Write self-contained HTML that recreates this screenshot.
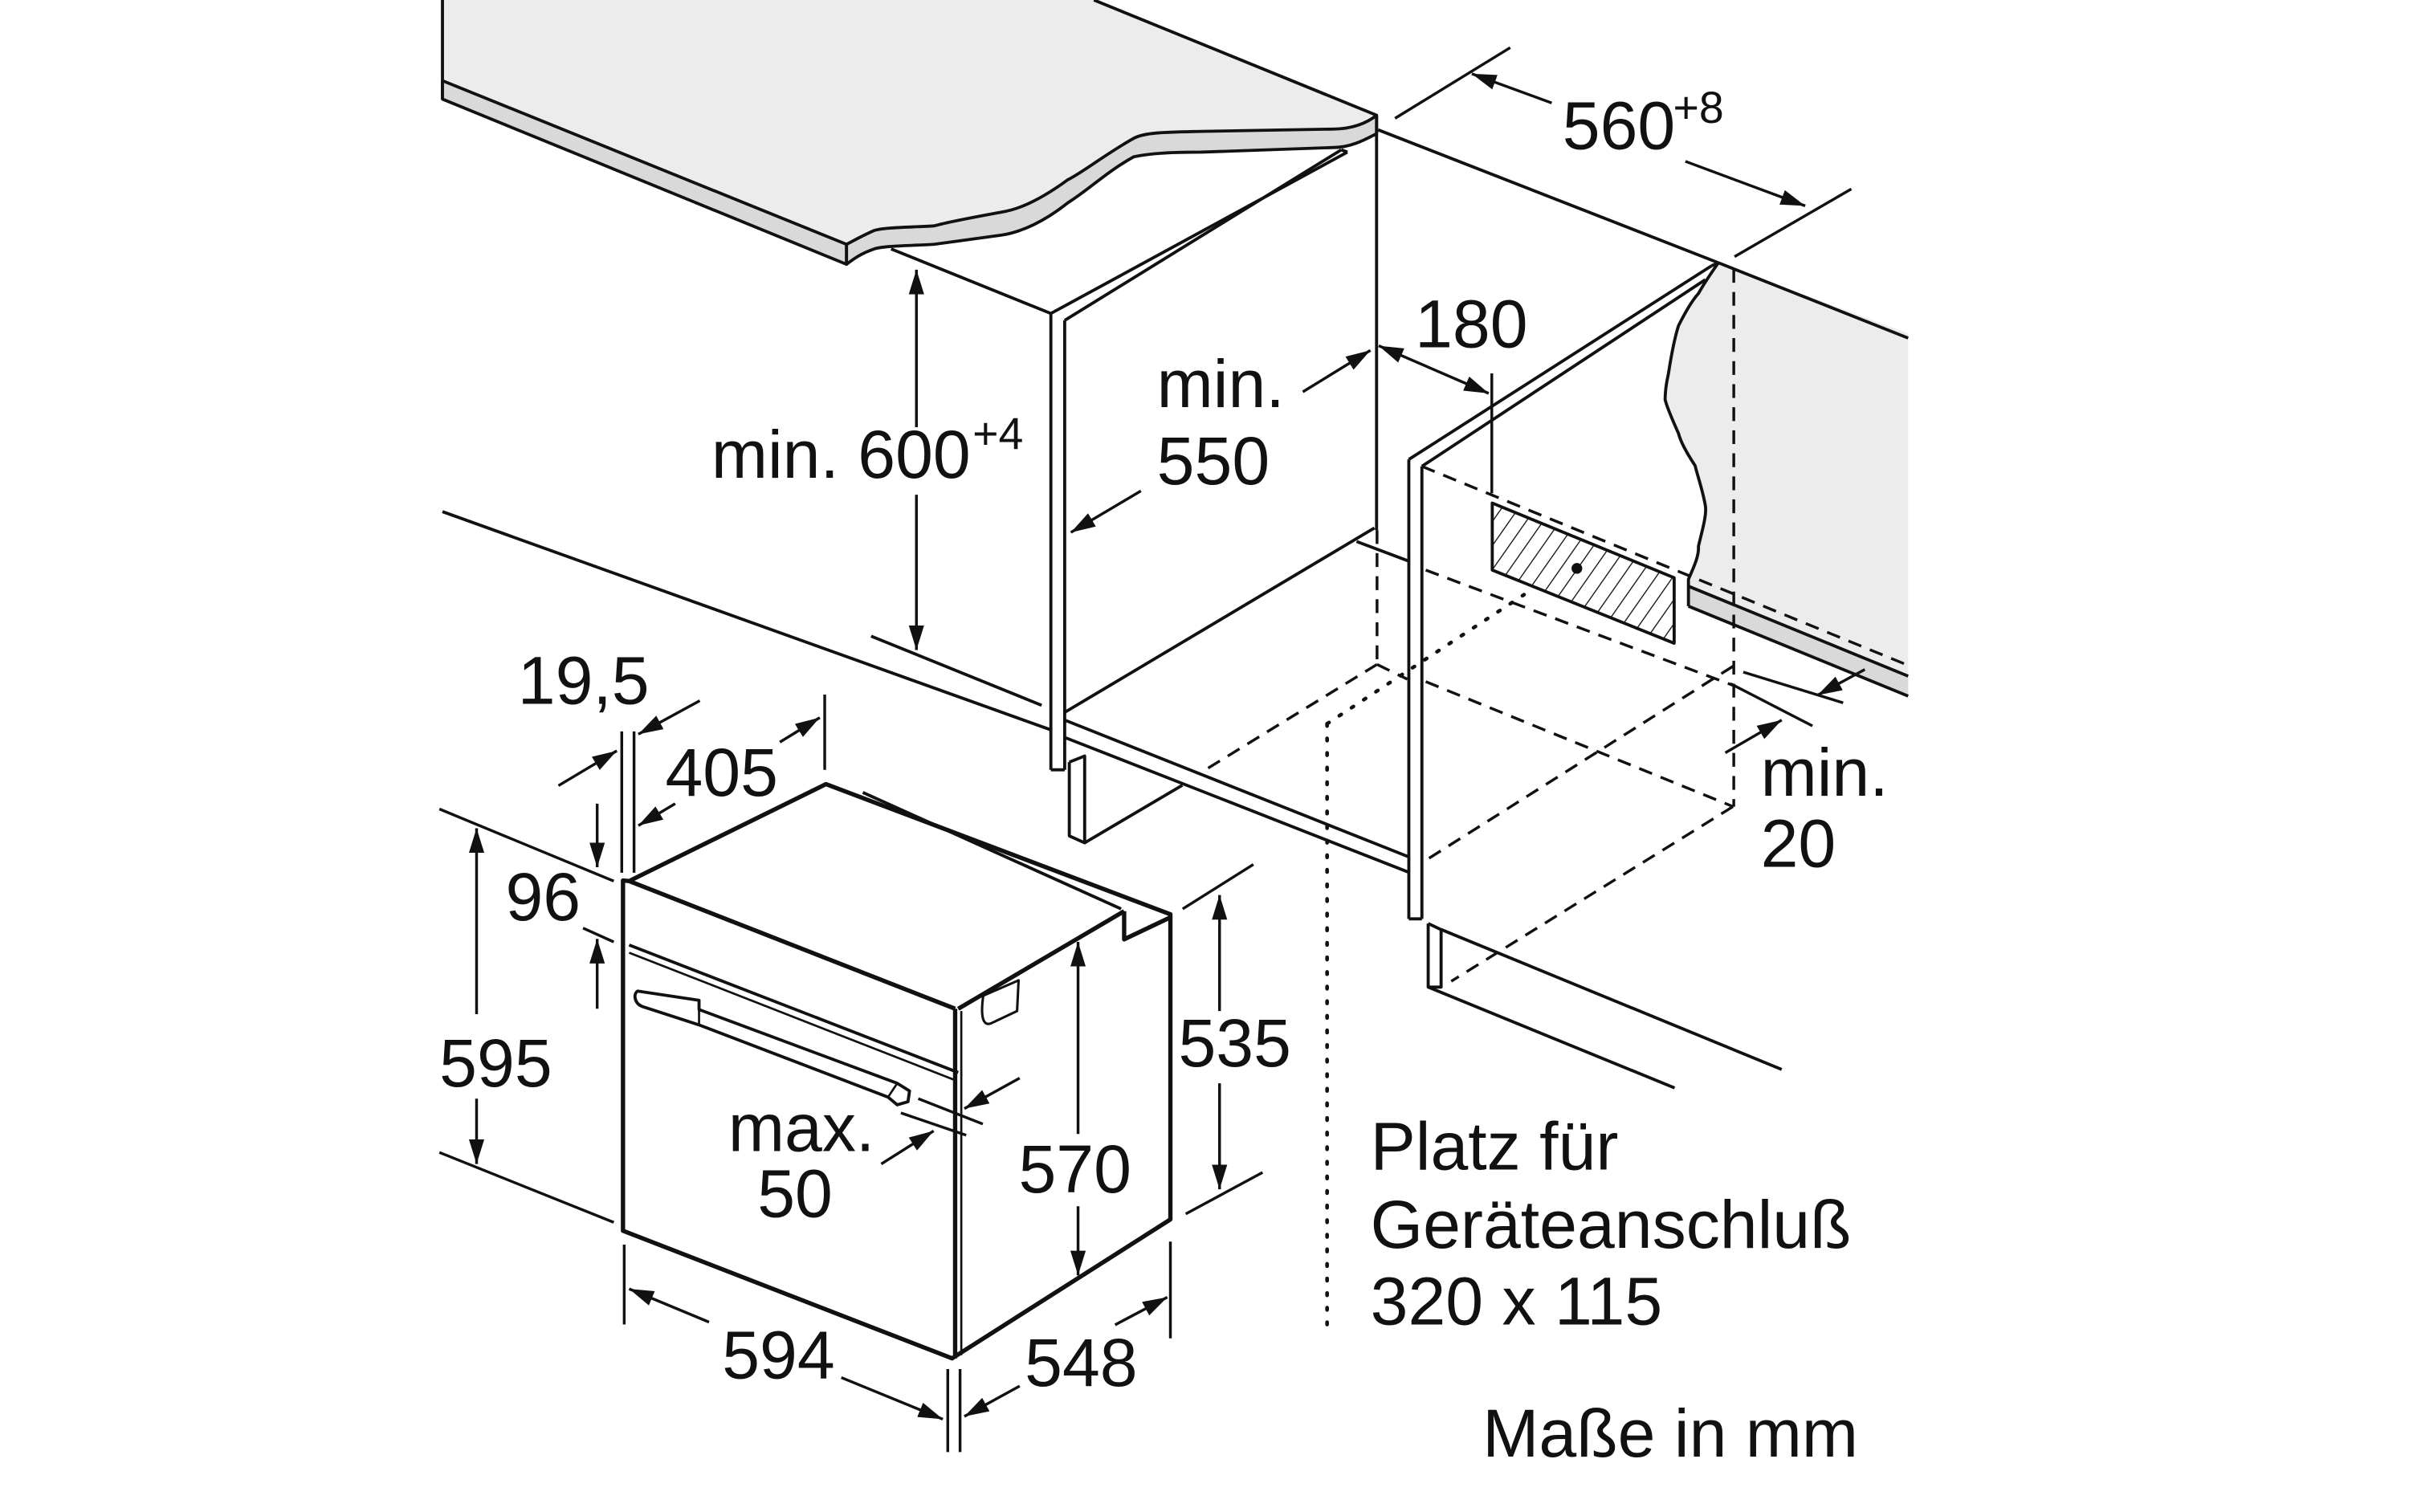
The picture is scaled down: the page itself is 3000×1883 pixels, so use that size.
<!DOCTYPE html>
<html><head><meta charset="utf-8"><style>
html,body{margin:0;padding:0;background:#fff;}
svg{display:block;}
text{font-family:"Liberation Sans",Arial,sans-serif;fill:#111;}
</style></head><body>
<svg width="3000" height="1883" viewBox="0 0 1568 984" preserveAspectRatio="none" xmlns="http://www.w3.org/2000/svg">
<defs>
<marker id="a" viewBox="0 0 16 10" refX="16" refY="5" markerWidth="16" markerHeight="10" markerUnits="userSpaceOnUse" orient="auto-start-reverse">
<path d="M0,0 L16,5 L0,10 Z" fill="#111"/></marker>
<pattern id="h" width="9" height="9" patternUnits="userSpaceOnUse" patternTransform="rotate(35)">
<line x1="0" y1="0" x2="0" y2="9" stroke="#111" stroke-width="1.4"/></pattern>
<clipPath id="hc"><polygon points="971.3,327.4 1089.7,376 1089.7,418.6 971.3,371"/></clipPath>
</defs>
<g stroke="#111" stroke-width="2" fill="none" stroke-linejoin="round">
<!-- countertop -->
<path d="M288,0 L712,0 L896,75 C890,80 880,84 868,84 L782,85.5 C760,86 745,86 738,90 C720,100 705,112 695,117 C680,128 665,136 652,138 C630,142 615,145 608,147 C590,148 575,148 569,150 C560,154 555,157 551,159 L288,52.5 Z" fill="#ececec" stroke="none"/>
<line x1="712" y1="0" x2="896" y2="75"/>
<line x1="288" y1="0" x2="288" y2="64.5"/>
<polygon points="288,52.5 551,159 551,172 288,64.5" fill="#d9d9d9"/>
<path d="M551,159 C555,157 560,154 569,150 C575,148 590,148 608,147 C615,145 630,142 652,138 C665,136 680,128 695,117 C705,112 720,100 738,90 C745,86 760,86 782,85.5 L868,84 C880,84 890,80 896,75 L896,87 C890,90 880,96 868,96 L782,99 C760,99 748,100 738,102 C720,112 708,124 695,132 C680,144 665,151 652,153 C630,156 615,158 608,159 C590,160 575,160 569,162 C560,165 555,169 551,172 Z" fill="#d9d9d9"/>
<!-- upper cabinet left side -->
<line x1="580" y1="162" x2="684" y2="204"/>
<line x1="684" y1="204" x2="877" y2="99"/>
<line x1="693" y1="208.5" x2="873" y2="97.5"/>
<line x1="877" y1="99" x2="873" y2="97.5"/>
<line x1="684" y1="204" x2="684" y2="501"/>
<line x1="693" y1="208.5" x2="693" y2="501"/>
<line x1="684" y1="501" x2="693" y2="501"/>
<polyline points="696,496 706,492 706,548.5 696,544 696,496"/>
<line x1="706" y1="548.5" x2="769.6" y2="511"/>
<line x1="896" y1="75" x2="896" y2="345"/>
<line x1="894.6" y1="343.6" x2="693" y2="463.6"/>
<line x1="883" y1="352.4" x2="916.3" y2="364.9"/>
<line x1="693" y1="468.6" x2="916.3" y2="557.4"/>
<line x1="693" y1="479.9" x2="916.3" y2="567.4"/>
<line x1="288" y1="333" x2="684" y2="475"/>
<line x1="567" y1="414" x2="678" y2="459"/>
<!-- right cabinet -->
<line x1="897" y1="84.5" x2="1118.5" y2="171"/>
<path d="M1118.5,171 L1242,217 L1242,453 L1099,394.5 L1099,377 C1102,370 1106,362 1105.5,355.5 C1108,345 1111,335 1110,329 C1108,318 1105,310 1103.3,303 C1098,295 1094,288 1092.5,282 C1088,272 1085,265 1083.8,260 C1084,252 1085,248 1086,243 C1088,230 1090,220 1092.5,212 C1097,203 1101,196 1105.5,191 C1110,183 1115,176 1118.5,171 Z" fill="#ececec" stroke="none"/>
<polygon points="1099,381.5 1242,440 1242,453 1099,394.5" fill="#d9d9d9" stroke="none"/>
<line x1="1118.5" y1="171" x2="1242" y2="220"/>
<path d="M1099,453 M1099,394.5 L1099,377 C1102,370 1106,362 1105.5,355.5 C1108,345 1111,335 1110,329 C1108,318 1105,310 1103.3,303 C1098,295 1094,288 1092.5,282 C1088,272 1085,265 1083.8,260 C1084,252 1085,248 1086,243 C1088,230 1090,220 1092.5,212 C1097,203 1101,196 1105.5,191 C1110,183 1115,176 1118.5,171"/>
<line x1="1099" y1="381.5" x2="1242" y2="440"/>
<line x1="1099" y1="394.5" x2="1242" y2="453"/>
<line x1="917" y1="299" x2="1114" y2="173"/>
<line x1="925.5" y1="303.5" x2="1110" y2="182"/>
<line x1="1114" y1="173" x2="1118.5" y2="171"/>
<line x1="917" y1="299" x2="917" y2="598"/>
<line x1="925.5" y1="303.5" x2="925.5" y2="598"/>
<line x1="917" y1="598" x2="925.5" y2="598"/>
<polyline points="929.6,601 938,605 938,642.4 929.6,642.4 929.6,601"/>
<line x1="938" y1="604.9" x2="1159.7" y2="696"/>
<line x1="929.6" y1="642.4" x2="1090" y2="708"/>
<!-- hatched -->
<polygon points="971.3,327.4 1089.7,376 1089.7,418.6 971.3,371" fill="url(#h)" clip-path="url(#hc)" stroke="none"/>
<polygon points="971.3,327.4 1089.7,376 1089.7,418.6 971.3,371"/>
<circle cx="1026.4" cy="369.9" r="3.5" fill="#111" stroke="none"/>
</g>
<!-- dashed -->
<g stroke="#111" stroke-width="1.8" fill="none" stroke-dasharray="9,6">
<line x1="1128.5" y1="175" x2="1128.5" y2="525"/>
<line x1="896.3" y1="345" x2="896.3" y2="432"/>
<line x1="896.3" y1="432.4" x2="786.3" y2="499.9"/>
<line x1="896.3" y1="432.4" x2="916" y2="442"/>
<line x1="925.5" y1="303.5" x2="1242" y2="433"/>
<line x1="928" y1="371" x2="1128" y2="446"/>
<line x1="928" y1="443.6" x2="1128" y2="524.9"/>
<line x1="1128" y1="433.6" x2="928" y2="559.9"/>
<line x1="1128" y1="524.9" x2="944.6" y2="638.6"/>
</g>
<g stroke="#111" stroke-width="2.4" fill="none" stroke-dasharray="1.5,8" stroke-linecap="round">
<line x1="863.8" y1="471" x2="863.8" y2="870"/>
<line x1="863.8" y1="471" x2="992" y2="387"/>
</g>
<!-- oven -->
<g stroke="#111" stroke-width="2.8" fill="#fff" stroke-linejoin="round">
<polygon points="409.5,573.4 537.6,510.3 761.8,595 761.8,793.6 619.7,884 405.5,801 405.5,573"/>
<line x1="623.7" y1="656.5" x2="731.7" y2="593"/>
<polyline points="731.7,593 731.7,611.3 761.8,597" fill="none"/>
<line x1="561.6" y1="515.7" x2="729.7" y2="591.5" stroke-width="2"/>
<line x1="409.5" y1="573.4" x2="621.7" y2="656.5"/>
<line x1="621.7" y1="656.5" x2="621.7" y2="884"/>
<line x1="625.7" y1="658" x2="625.7" y2="882" stroke-width="1.4"/>
<line x1="409.5" y1="615" x2="623.7" y2="698" stroke-width="2"/>
<line x1="409.5" y1="620" x2="621.7" y2="703" stroke-width="1.4"/>
<path d="M415,645 L455,651 L455,657 L584,705 L592,710 L591,717 L584,719 L578,714 L455,667 L418,655 C413,653 412,647 415,645 Z" stroke-width="2"/>
<line x1="455" y1="657" x2="455" y2="667" stroke-width="1.4"/>
<line x1="578" y1="714" x2="584" y2="705" stroke-width="1.4"/>
<path d="M640,648 L663,638 L662,658 L645,666 C640,668 638,662 640,648 Z" stroke-width="1.6"/>
</g>
<!-- dimension lines -->
<g stroke="#111" stroke-width="1.8" fill="none">
<line x1="596.5" y1="175.5" x2="596.5" y2="278" marker-start="url(#a)"/>
<line x1="596.5" y1="322" x2="596.5" y2="423" marker-end="url(#a)"/>
<line x1="848" y1="255" x2="892" y2="228" marker-end="url(#a)"/>
<line x1="742.6" y1="319.5" x2="697" y2="346.5" marker-end="url(#a)"/>
<line x1="897.4" y1="225" x2="969" y2="256" marker-start="url(#a)" marker-end="url(#a)"/>
<line x1="971" y1="243" x2="971" y2="321"/>
<line x1="908" y1="77" x2="983" y2="31"/>
<line x1="1129" y1="167" x2="1205" y2="123"/>
<line x1="1010" y1="67" x2="958" y2="48" marker-end="url(#a)"/>
<line x1="1097" y1="105" x2="1175" y2="134" marker-end="url(#a)"/>
<line x1="1134.7" y1="437.4" x2="1199.7" y2="457.4"/>
<line x1="1126.3" y1="444.9" x2="1179.7" y2="472.4"/>
<line x1="1213.8" y1="435.7" x2="1183" y2="452.4" marker-end="url(#a)"/>
<line x1="1123" y1="489.9" x2="1159.7" y2="468.6" marker-end="url(#a)"/>
<!-- oven dims -->
<line x1="310.2" y1="539" x2="310.2" y2="660" marker-start="url(#a)"/>
<line x1="310.2" y1="715" x2="310.2" y2="757.5" marker-end="url(#a)"/>
<line x1="286" y1="526.5" x2="399.5" y2="573.4"/>
<line x1="286" y1="750" x2="399.5" y2="795.5"/>
<line x1="388.7" y1="523" x2="388.7" y2="564.4" marker-end="url(#a)"/>
<line x1="388.7" y1="656.5" x2="388.7" y2="611" marker-end="url(#a)"/>
<line x1="379.5" y1="604" x2="399.5" y2="613"/>
<line x1="404.7" y1="476" x2="404.7" y2="568"/>
<line x1="412.7" y1="476" x2="412.7" y2="568"/>
<line x1="363.5" y1="511.3" x2="401.5" y2="488.6" marker-end="url(#a)"/>
<line x1="455.5" y1="456" x2="415.5" y2="477.8" marker-end="url(#a)"/>
<line x1="536.8" y1="452" x2="536.8" y2="501"/>
<line x1="507.6" y1="483" x2="533.6" y2="467" marker-end="url(#a)"/>
<line x1="439.5" y1="523" x2="415.5" y2="537.3" marker-end="url(#a)"/>
<line x1="793.8" y1="582.5" x2="793.8" y2="658" marker-start="url(#a)"/>
<line x1="793.8" y1="705" x2="793.8" y2="774" marker-end="url(#a)"/>
<line x1="769.8" y1="591.5" x2="815.8" y2="562.6"/>
<line x1="771.8" y1="790" x2="821.8" y2="763"/>
<line x1="701.7" y1="613" x2="701.7" y2="738" marker-start="url(#a)"/>
<line x1="701.7" y1="785" x2="701.7" y2="830" marker-end="url(#a)"/>
<line x1="597.7" y1="715" x2="639.7" y2="731.5"/>
<line x1="586.4" y1="724.3" x2="628.9" y2="738.8"/>
<line x1="663.7" y1="701.6" x2="627.7" y2="721.5" marker-end="url(#a)"/>
<line x1="573.6" y1="757.5" x2="607.7" y2="736" marker-end="url(#a)"/>
<line x1="406.3" y1="810" x2="406.3" y2="862"/>
<line x1="616.9" y1="891" x2="616.9" y2="945"/>
<line x1="624.9" y1="891" x2="624.9" y2="945"/>
<line x1="461.5" y1="860.4" x2="409.5" y2="838.8" marker-end="url(#a)"/>
<line x1="547.6" y1="896.5" x2="613.7" y2="923.6" marker-end="url(#a)"/>
<line x1="761.8" y1="808" x2="761.8" y2="871"/>
<line x1="725.8" y1="862.2" x2="759.8" y2="844.2" marker-end="url(#a)"/>
<line x1="663.7" y1="902" x2="627.7" y2="921.8" marker-end="url(#a)"/>
</g>
<!-- texts -->
<g font-size="44">
<text x="463" y="311">min. 600</text>
<text x="633" y="292" font-size="29">+4</text>
<text x="753" y="265">min.</text>
<text x="753" y="315">550</text>
<text x="921" y="226">180</text>
<text x="1017" y="97">560</text>
<text x="1089" y="80" font-size="29">+8</text>
<text x="1146" y="518">min.</text>
<text x="1146" y="564">20</text>
<text x="337" y="458">19,5</text>
<text x="433" y="518">405</text>
<text x="329" y="599">96</text>
<text x="286" y="707">595</text>
<text x="767" y="694">535</text>
<text x="663" y="776">570</text>
<text x="474" y="749">max.</text>
<text x="493" y="792">50</text>
<text x="470" y="897">594</text>
<text x="667" y="902">548</text>
<text x="892" y="761">Platz für</text>
<text x="892" y="812">Geräteanschluß</text>
<text x="892" y="862">320 x 115</text>
<text x="965" y="948">Maße in mm</text>
</g>
</svg>
</body></html>
